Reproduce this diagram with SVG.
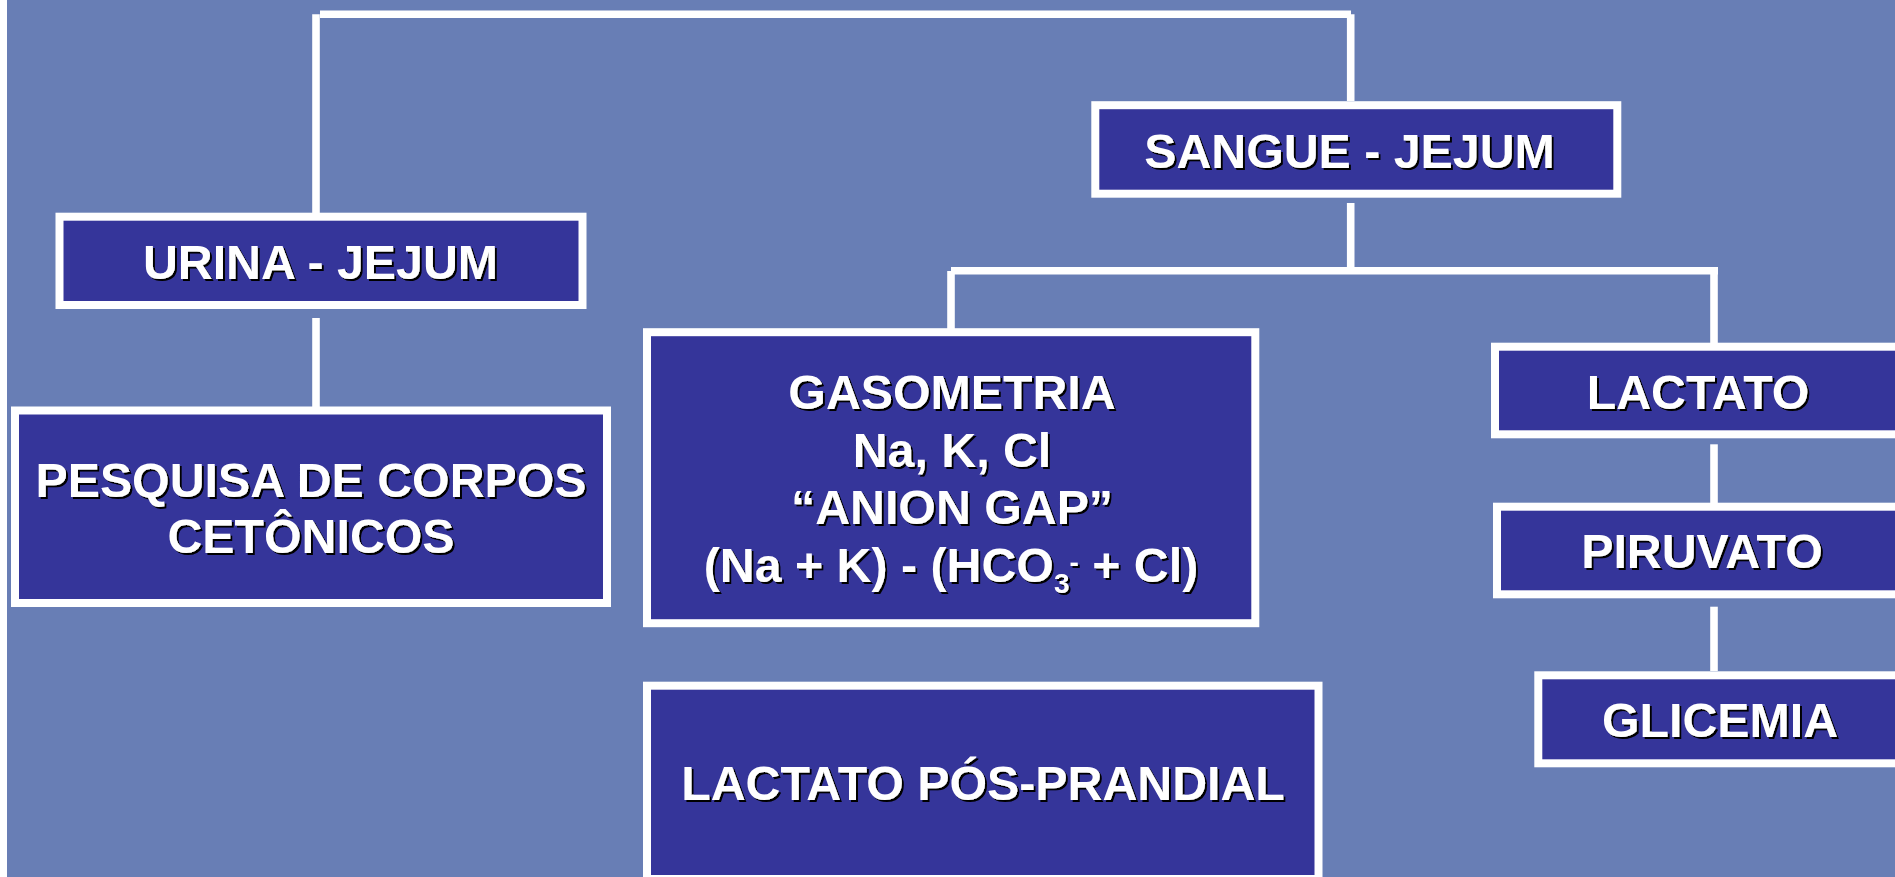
<svg xmlns="http://www.w3.org/2000/svg" width="1895" height="877" viewBox="0 0 1895 877">
<defs>
<filter id="sh" x="-5%" y="-20%" width="110%" height="140%">
<feDropShadow dx="2" dy="2" stdDeviation="0.3" flood-color="#000" flood-opacity="1"/>
</filter>
<style>
.box{fill:#35359A;stroke:#FFFFFF;stroke-width:8}
.t{font-family:"Liberation Sans",Arial,sans-serif;font-weight:bold;font-size:48.3px;fill:#FFFFFF;text-anchor:middle;filter:url(#sh)}
.c{stroke:#FFFFFF;stroke-width:7.6;fill:none}
</style>
</defs>
<rect x="0" y="0" width="1895" height="877" fill="#687EB5"/>
<rect x="0" y="0" width="7" height="877" fill="#FFFFFF"/>
<g id="connectors">
<line class="c" x1="316" y1="14.3" x2="316" y2="213"/>
<line class="c" x1="320" y1="14.3" x2="1351" y2="14.3"/>
<line class="c" x1="1350.7" y1="14.3" x2="1350.7" y2="101"/>
<line class="c" x1="316" y1="318" x2="316" y2="407"/>
<line class="c" x1="1350.7" y1="203" x2="1350.7" y2="271"/>
<line class="c" x1="951" y1="270.7" x2="1718" y2="270.7"/>
<line class="c" x1="951" y1="271" x2="951" y2="329"/>
<line class="c" x1="1714" y1="271" x2="1714" y2="343"/>
<line class="c" x1="1714" y1="444.3" x2="1714" y2="503"/>
<line class="c" x1="1714" y1="606.7" x2="1714" y2="671"/>
</g>
<g id="urina">
<rect class="box" x="59.5" y="216.7" width="523" height="88.3"/>
<text class="t" x="320.5" y="279.3">URINA - JEJUM</text>
</g>
<g id="sangue">
<rect class="box" x="1095.3" y="105.2" width="522" height="88.5"/>
<text class="t" x="1349.5" y="167.7">SANGUE - JEJUM</text>
</g>
<g id="pesquisa">
<rect class="box" x="15" y="410.5" width="592" height="192.5"/>
<text class="t" x="311" y="496.7">PESQUISA DE CORPOS</text>
<text class="t" x="311" y="553.3">CETÔNICOS</text>
</g>
<g id="gasometria">
<rect class="box" x="647" y="332.2" width="608.3" height="291"/>
<text class="t" x="952" y="409">GASOMETRIA</text>
<text class="t" x="952" y="466.7">Na, K, Cl</text>
<text class="t" x="952" y="524">“ANION GAP”</text>
<text class="t" x="951" y="581.7">(Na + K) - (HCO<tspan font-size="28" dy="11.6">3</tspan><tspan font-size="28" dy="-21.3">-</tspan><tspan dy="9.7"> + Cl)</tspan></text>
</g>
<g id="lactato">
<rect class="box" x="1495" y="346.7" width="410" height="87.6"/>
<text class="t" x="1698" y="409">LACTATO</text>
</g>
<g id="piruvato">
<rect class="box" x="1497" y="506.7" width="410" height="87.6"/>
<text class="t" x="1702" y="568.3">PIRUVATO</text>
</g>
<g id="glicemia">
<rect class="box" x="1538.3" y="675.3" width="370" height="88"/>
<text class="t" x="1720" y="736.7">GLICEMIA</text>
</g>
<g id="lactato-pos">
<rect class="box" x="647" y="685.7" width="671.5" height="193.3"/>
<text class="t" x="983" y="800">LACTATO PÓS-PRANDIAL</text>
</g>
</svg>
